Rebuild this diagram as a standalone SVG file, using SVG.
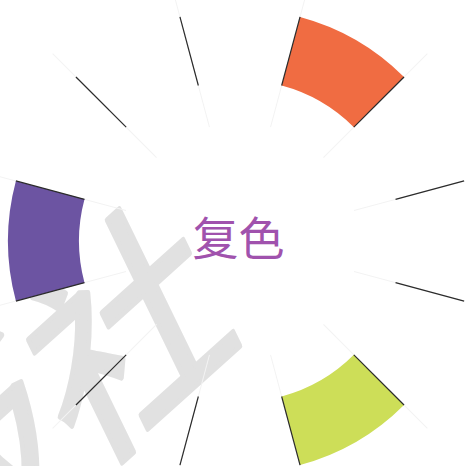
<svg xmlns="http://www.w3.org/2000/svg" width="465" height="466" viewBox="0 0 465 466">
<style>
.wm { font-family: "Noto Sans CJK SC", "Noto Sans CJK JP", sans-serif; font-size: 215px; fill: #e1e1e1; stroke: #e1e1e1; stroke-width: 5; stroke-linejoin: round; }
.edge { stroke: #2b2b2b; stroke-width: 1.2; }
.faint { stroke: #f3f3f3; stroke-width: 1; }
.title { font-family: "Noto Sans CJK SC", "Noto Sans CJK JP", sans-serif; font-size: 46px; fill: #a052ad; }
</style>
<defs>
<path id="sector" d="M -60.04,-224.09 A 232 232 0 0 1 60.04,-224.09 L 41.67,-155.51 A 161 161 0 0 0 -41.67,-155.51 Z"/>
<line id="edgeLine" x1="0" y1="-161" x2="0" y2="-232" class="edge"/>
<line id="faintLine" x1="0" y1="-118" x2="0" y2="-265" class="faint"/>
</defs>
<rect width="465" height="466" fill="#ffffff"/>
<g id="watermark">
<text class="wm" transform="matrix(0.743,-0.669,0.438,0.899,-77,620)">版社</text>
</g>
<g transform="translate(240,241)">
<g id="guides">
<use href="#faintLine" transform="rotate(15)"/>
<use href="#faintLine" transform="rotate(45)"/>
<use href="#faintLine" transform="rotate(75)"/>
<use href="#faintLine" transform="rotate(105)"/>
<use href="#faintLine" transform="rotate(135)"/>
<use href="#faintLine" transform="rotate(165)"/>
<use href="#faintLine" transform="rotate(195)"/>
<use href="#faintLine" transform="rotate(225)"/>
<use href="#faintLine" transform="rotate(255)"/>
<use href="#faintLine" transform="rotate(285)"/>
<use href="#faintLine" transform="rotate(315)"/>
<use href="#faintLine" transform="rotate(345)"/>
</g>
<g id="orange"><use href="#sector" transform="rotate(30)" fill="#f06c42"/></g>
<g id="yellowgreen"><use href="#sector" transform="rotate(150)" fill="#cdde58"/></g>
<g id="purple"><use href="#sector" transform="rotate(270)" fill="#6c54a2"/></g>
<g id="connectors">
<use href="#edgeLine" transform="rotate(15)"/>
<use href="#edgeLine" transform="rotate(45)"/>
<use href="#edgeLine" transform="rotate(75)"/>
<use href="#edgeLine" transform="rotate(105)"/>
<use href="#edgeLine" transform="rotate(135)"/>
<use href="#edgeLine" transform="rotate(165)"/>
<use href="#edgeLine" transform="rotate(195)"/>
<use href="#edgeLine" transform="rotate(225)"/>
<use href="#edgeLine" transform="rotate(255)"/>
<use href="#edgeLine" transform="rotate(285)"/>
<use href="#edgeLine" transform="rotate(315)"/>
<use href="#edgeLine" transform="rotate(345)"/>
</g>
</g>
<g id="label">
<text class="title" x="238.5" y="255" text-anchor="middle">复色</text>
</g>
</svg>
